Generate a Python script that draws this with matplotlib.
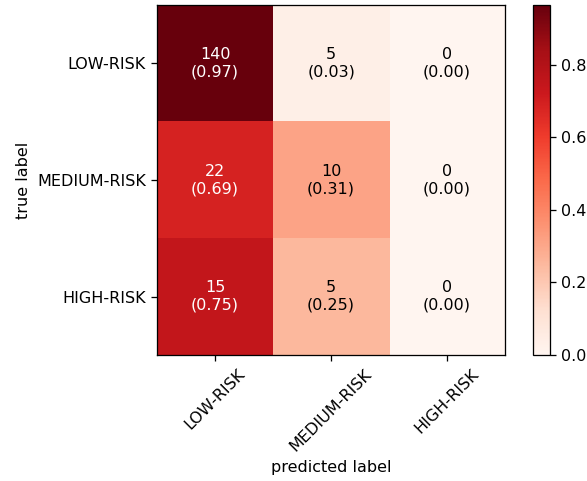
import numpy as np
import matplotlib
matplotlib.use("Agg")
import matplotlib.pyplot as plt

# confusion matrix counts (rows = true, cols = predicted)
class_names = ["LOW-RISK", "MEDIUM-RISK", "HIGH-RISK"]
counts = np.array([
    [140, 5, 0],
    [22, 10, 0],
    [15, 5, 0],
])

norm = counts.astype(float) / counts.sum(axis=1)[:, np.newaxis]

DPI = 115
fig = plt.figure(figsize=(587 / DPI, 481 / DPI), dpi=DPI)
ax = fig.add_axes([0.2675, 0.262, 0.593, 0.7277])
cax = fig.add_axes([0.908, 0.262, 0.029, 0.7277])

im = ax.matshow(norm, cmap="Reds", aspect="auto")
fig.colorbar(im, cax=cax)

thresh = norm.max() / 2.0
for i in range(counts.shape[0]):
    for j in range(counts.shape[1]):
        txt = f"{counts[i, j]}\n({norm[i, j]:.2f})"
        ax.text(j, i, txt, ha="center", va="center", fontsize=10,
                color="white" if norm[i, j] > thresh else "black")

ticks = np.arange(len(class_names))
ax.set_xticks(ticks)
ax.set_xticklabels(class_names, rotation=45)
ax.set_yticks(ticks)
ax.set_yticklabels(class_names)
ax.xaxis.set_ticks_position("bottom")
ax.set_xlabel("predicted label")
ax.set_ylabel("true label")

fig.savefig("out.png", dpi=DPI)
